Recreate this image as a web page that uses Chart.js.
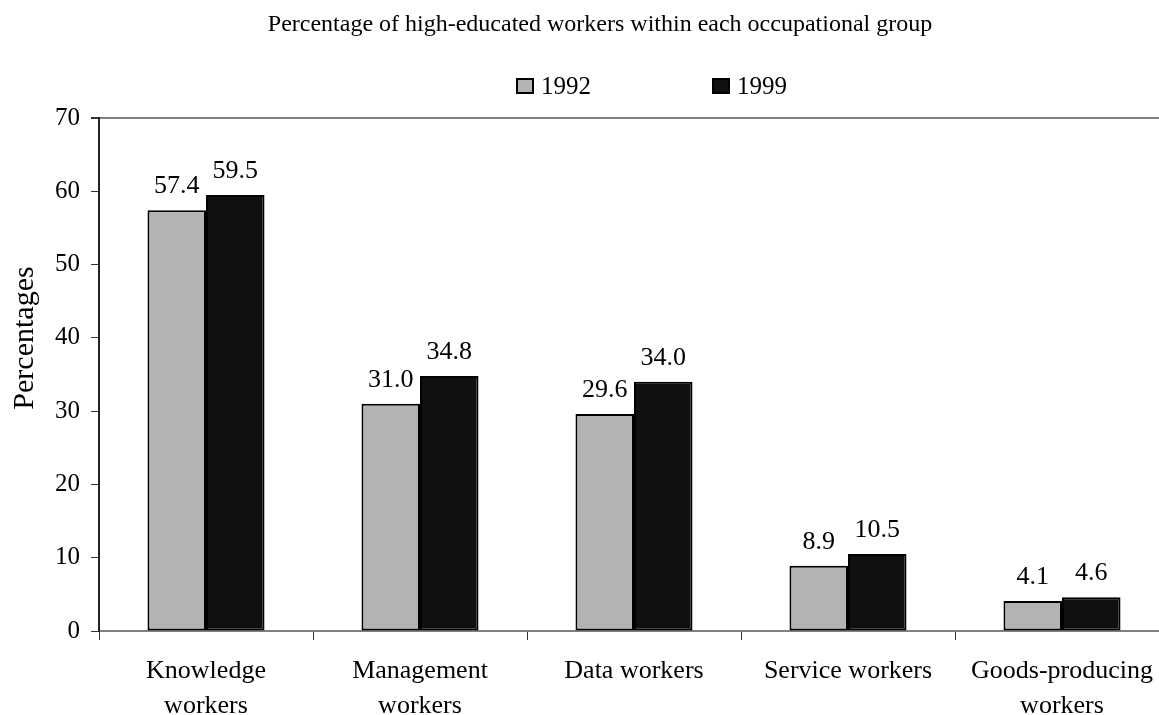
<!DOCTYPE html>
<html>
<head>
<meta charset="utf-8">
<script src="https://cdn.jsdelivr.net/npm/chart.js@4.4.1/dist/chart.umd.min.js"></script>
<style>
  html, body { margin: 0; padding: 0; background: #fff; overflow: hidden; }
  #wrap { position: relative; width: 1200px; height: 715px; }
</style>
</head>
<body>
<div id="wrap"><canvas id="c"></canvas></div>
<script>
const chartTitle = 'Percentage of high-educated workers within each occupational group';
const yAxisTitle = 'Percentages';
const categories = [
  ['Knowledge', 'workers'],
  ['Management', 'workers'],
  ['Data workers'],
  ['Service workers'],
  ['Goods-producing', 'workers']
];
const seriesNames = ['1992', '1999'];
const values1992 = [57.4, 31.0, 29.6, 8.9, 4.1];
const values1999 = [59.5, 34.8, 34.0, 10.5, 4.6];
const yTicks = [0, 10, 20, 30, 40, 50, 60, 70];

const FONT = "'Liberation Serif', 'Times New Roman', serif";
const colors = ['#b3b3b3', '#101010'];

const textPlugin = {
  id: 'titleText',
  afterDraw(chart) {
    const ctx = chart.ctx;
    ctx.save();
    ctx.font = '24px ' + FONT;
    ctx.fillStyle = '#000';
    ctx.textAlign = 'center';
    ctx.textBaseline = 'alphabetic';
    ctx.fillText(chartTitle, 600, 31);
    // y-axis title
    ctx.translate(25, 338);
    ctx.rotate(-Math.PI / 2);
    ctx.font = '30px ' + FONT;
    ctx.textBaseline = 'middle';
    ctx.fillText(yAxisTitle, 0, 0);
    ctx.restore();
  }
};

const legendPlugin = {
  id: 'customLegend',
  afterDraw(chart) {
    const ctx = chart.ctx;
    const boxX = [516, 712];
    ctx.save();
    ctx.font = '25px ' + FONT;
    ctx.textBaseline = 'alphabetic';
    ctx.textAlign = 'left';
    chart.data.datasets.forEach((ds, i) => {
      ctx.fillStyle = ds.backgroundColor;
      ctx.fillRect(boxX[i], 78, 18, 16);
      ctx.lineWidth = 2;
      ctx.strokeStyle = '#000';
      ctx.strokeRect(boxX[i] + 1, 79, 16, 14);
      ctx.fillStyle = '#000';
      ctx.fillText(ds.label, boxX[i] + 25, 94);
    });
    ctx.restore();
  }
};

const dataLabelPlugin = {
  id: 'dataLabels',
  afterDatasetsDraw(chart) {
    const ctx = chart.ctx;
    ctx.save();
    ctx.font = '26px ' + FONT;
    ctx.fillStyle = '#000';
    ctx.textAlign = 'center';
    ctx.textBaseline = 'alphabetic';
    chart.data.datasets.forEach((ds, di) => {
      const meta = chart.getDatasetMeta(di);
      meta.data.forEach((bar, i) => {
        ctx.fillText(ds.data[i].toFixed(1), bar.x, bar.y - 17);
      });
    });
    ctx.restore();
  }
};

new Chart(document.getElementById('c'), {
  type: 'bar',
  data: {
    labels: categories,
    datasets: [
      { label: seriesNames[0], data: values1992, backgroundColor: colors[0], borderColor: '#000', borderWidth: 2, borderSkipped: false },
      { label: seriesNames[1], data: values1999, backgroundColor: colors[1], borderColor: '#000', borderWidth: 2, borderSkipped: false }
    ]
  },
  options: {
    responsive: true,
    maintainAspectRatio: false,
    animation: false,
    layout: { padding: { top: 118, right: 31, left: 0, bottom: 0 } },
    datasets: { bar: { categoryPercentage: 0.547, barPercentage: 1.0 } },
    plugins: {
      legend: { display: false },
      title: { display: false },
      tooltip: { enabled: false }
    },
    scales: {
      x: {
        grid: { offset: true, drawOnChartArea: false, drawTicks: true, tickLength: 9, tickColor: '#333', lineWidth: 1 },
        border: { color: '#808080', width: 2 },
        ticks: { font: { family: FONT, size: 26, lineHeight: 1.35 }, color: '#000', padding: 14, maxRotation: 0, autoSkip: false },
        afterFit(scale) { scale.height = 84; }
      },
      y: {
        min: 0, max: 70,
        afterBuildTicks(scale) { scale.ticks = yTicks.map(v => ({ value: v })); },
        grid: {
          drawOnChartArea: true,
          color: ctx => (ctx.tick && ctx.tick.value === 70 ? '#808080' : 'rgba(0,0,0,0)'),
          lineWidth: ctx => (ctx.tick && ctx.tick.value === 70 ? 2 : 1),
          tickLength: 8,
          tickColor: '#333'
        },
        border: { color: '#222', width: 2 },
        ticks: { font: { family: FONT, size: 25 }, color: '#000', padding: 11 },
        title: { display: false },
        afterFit(scale) { scale.width = 99; }
      }
    }
  },
  plugins: [textPlugin, legendPlugin, dataLabelPlugin]
});
</script>
</body>
</html>
